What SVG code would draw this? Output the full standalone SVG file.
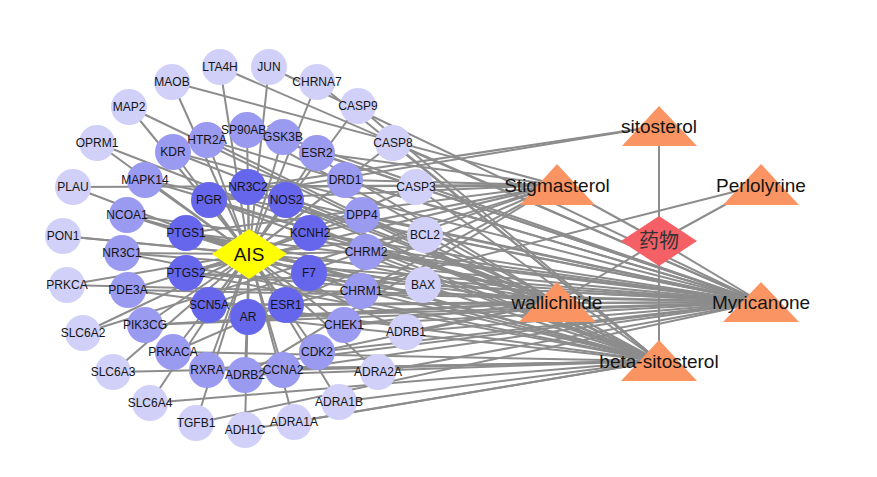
<svg xmlns="http://www.w3.org/2000/svg" width="877" height="477" viewBox="0 0 877 477">
<style>
.e{stroke:#8c8c8c;stroke-width:2;fill:none}
.o{fill:#d0d0f9}
.m{fill:#9a9af0}
.i{fill:#6666ec}
.c{fill:#fa9563}
text{font-family:"Liberation Sans",Arial,sans-serif;text-anchor:middle;fill:#141414}
.t{font-size:12px}
.L{font-size:19px}
</style>
<rect width="877" height="477" fill="#fff"/>
<g id="edges">
<!-- AIS edges -->
<line class="e" x1="249" y1="254" x2="220" y2="67"/>
<line class="e" x1="249" y1="254" x2="269" y2="67"/>
<line class="e" x1="249" y1="254" x2="317" y2="82"/>
<line class="e" x1="249" y1="254" x2="358" y2="106"/>
<line class="e" x1="249" y1="254" x2="393" y2="143"/>
<line class="e" x1="249" y1="254" x2="416" y2="187"/>
<line class="e" x1="249" y1="254" x2="425" y2="235"/>
<line class="e" x1="249" y1="254" x2="423" y2="285"/>
<line class="e" x1="249" y1="254" x2="406" y2="332"/>
<line class="e" x1="249" y1="254" x2="378" y2="372"/>
<line class="e" x1="249" y1="254" x2="339" y2="402"/>
<line class="e" x1="249" y1="254" x2="294" y2="422"/>
<line class="e" x1="249" y1="254" x2="245" y2="430"/>
<line class="e" x1="249" y1="254" x2="196" y2="423"/>
<line class="e" x1="249" y1="254" x2="150" y2="403"/>
<line class="e" x1="249" y1="254" x2="113" y2="372"/>
<line class="e" x1="249" y1="254" x2="83" y2="333"/>
<line class="e" x1="249" y1="254" x2="67" y2="285"/>
<line class="e" x1="249" y1="254" x2="63" y2="236"/>
<line class="e" x1="249" y1="254" x2="73" y2="187"/>
<line class="e" x1="249" y1="254" x2="97" y2="143"/>
<line class="e" x1="249" y1="254" x2="129" y2="107"/>
<line class="e" x1="249" y1="254" x2="172" y2="82"/>
<line class="e" x1="249" y1="254" x2="207" y2="140"/>
<line class="e" x1="249" y1="254" x2="247" y2="130"/>
<line class="e" x1="249" y1="254" x2="283" y2="137"/>
<line class="e" x1="249" y1="254" x2="317" y2="153"/>
<line class="e" x1="249" y1="254" x2="345" y2="180"/>
<line class="e" x1="249" y1="254" x2="362" y2="215"/>
<line class="e" x1="249" y1="254" x2="366" y2="252"/>
<line class="e" x1="249" y1="254" x2="361" y2="291"/>
<line class="e" x1="249" y1="254" x2="344" y2="325"/>
<line class="e" x1="249" y1="254" x2="317" y2="352"/>
<line class="e" x1="249" y1="254" x2="283" y2="370"/>
<line class="e" x1="249" y1="254" x2="245" y2="375"/>
<line class="e" x1="249" y1="254" x2="207" y2="370"/>
<line class="e" x1="249" y1="254" x2="173" y2="352"/>
<line class="e" x1="249" y1="254" x2="145" y2="325"/>
<line class="e" x1="249" y1="254" x2="128" y2="290"/>
<line class="e" x1="249" y1="254" x2="122" y2="253"/>
<line class="e" x1="249" y1="254" x2="127" y2="215"/>
<line class="e" x1="249" y1="254" x2="145" y2="180"/>
<line class="e" x1="249" y1="254" x2="173" y2="152"/>
<line class="e" x1="249" y1="254" x2="209" y2="200"/>
<line class="e" x1="249" y1="254" x2="248" y2="187"/>
<line class="e" x1="249" y1="254" x2="286" y2="200"/>
<line class="e" x1="249" y1="254" x2="310" y2="233"/>
<line class="e" x1="249" y1="254" x2="309" y2="273"/>
<line class="e" x1="249" y1="254" x2="286" y2="305"/>
<line class="e" x1="249" y1="254" x2="248" y2="317"/>
<line class="e" x1="249" y1="254" x2="209" y2="305"/>
<line class="e" x1="249" y1="254" x2="186" y2="273"/>
<line class="e" x1="249" y1="254" x2="186" y2="233"/>
<!-- drug edges -->
<line class="e" x1="659" y1="241" x2="659" y2="126"/>
<line class="e" x1="659" y1="241" x2="557" y2="185"/>
<line class="e" x1="659" y1="241" x2="761" y2="185"/>
<line class="e" x1="659" y1="241" x2="557" y2="302"/>
<line class="e" x1="659" y1="241" x2="761" y2="302"/>
<line class="e" x1="659" y1="241" x2="659" y2="361"/>
<!-- sitosterol -->
<line class="e" x1="659" y1="126" x2="209" y2="200"/>
<line class="e" x1="659" y1="126" x2="248" y2="187"/>
<!-- Stigmasterol -->
<line class="e" x1="557" y1="185" x2="416" y2="187"/>
<line class="e" x1="557" y1="185" x2="83" y2="333"/>
<line class="e" x1="557" y1="185" x2="73" y2="187"/>
<line class="e" x1="557" y1="185" x2="172" y2="82"/>
<line class="e" x1="557" y1="185" x2="317" y2="153"/>
<line class="e" x1="557" y1="185" x2="345" y2="180"/>
<line class="e" x1="557" y1="185" x2="361" y2="291"/>
<line class="e" x1="557" y1="185" x2="245" y2="375"/>
<line class="e" x1="557" y1="185" x2="173" y2="352"/>
<line class="e" x1="557" y1="185" x2="209" y2="200"/>
<line class="e" x1="557" y1="185" x2="248" y2="187"/>
<line class="e" x1="557" y1="185" x2="310" y2="233"/>
<line class="e" x1="557" y1="185" x2="209" y2="305"/>
<line class="e" x1="557" y1="185" x2="186" y2="273"/>
<line class="e" x1="557" y1="185" x2="186" y2="233"/>
<!-- Perlolyrine -->
<line class="e" x1="761" y1="185" x2="286" y2="305"/>
<!-- wallichilide -->
<line class="e" x1="557" y1="302" x2="406" y2="332"/>
<line class="e" x1="557" y1="302" x2="247" y2="130"/>
<line class="e" x1="557" y1="302" x2="283" y2="137"/>
<line class="e" x1="557" y1="302" x2="362" y2="215"/>
<line class="e" x1="557" y1="302" x2="344" y2="325"/>
<line class="e" x1="557" y1="302" x2="317" y2="352"/>
<line class="e" x1="557" y1="302" x2="145" y2="325"/>
<line class="e" x1="557" y1="302" x2="145" y2="180"/>
<line class="e" x1="557" y1="302" x2="173" y2="152"/>
<line class="e" x1="557" y1="302" x2="209" y2="200"/>
<line class="e" x1="557" y1="302" x2="286" y2="200"/>
<line class="e" x1="557" y1="302" x2="310" y2="233"/>
<line class="e" x1="557" y1="302" x2="309" y2="273"/>
<line class="e" x1="557" y1="302" x2="286" y2="305"/>
<line class="e" x1="557" y1="302" x2="248" y2="317"/>
<line class="e" x1="557" y1="302" x2="209" y2="305"/>
<line class="e" x1="557" y1="302" x2="186" y2="273"/>
<line class="e" x1="557" y1="302" x2="186" y2="233"/>
<!-- Myricanone -->
<line class="e" x1="761" y1="302" x2="220" y2="67"/>
<line class="e" x1="761" y1="302" x2="269" y2="67"/>
<line class="e" x1="761" y1="302" x2="393" y2="143"/>
<line class="e" x1="761" y1="302" x2="425" y2="235"/>
<line class="e" x1="761" y1="302" x2="423" y2="285"/>
<line class="e" x1="761" y1="302" x2="406" y2="332"/>
<line class="e" x1="761" y1="302" x2="378" y2="372"/>
<line class="e" x1="761" y1="302" x2="196" y2="423"/>
<line class="e" x1="761" y1="302" x2="67" y2="285"/>
<line class="e" x1="761" y1="302" x2="63" y2="236"/>
<line class="e" x1="761" y1="302" x2="207" y2="140"/>
<line class="e" x1="761" y1="302" x2="247" y2="130"/>
<line class="e" x1="761" y1="302" x2="283" y2="137"/>
<line class="e" x1="761" y1="302" x2="317" y2="153"/>
<line class="e" x1="761" y1="302" x2="345" y2="180"/>
<line class="e" x1="761" y1="302" x2="362" y2="215"/>
<line class="e" x1="761" y1="302" x2="366" y2="252"/>
<line class="e" x1="761" y1="302" x2="344" y2="325"/>
<line class="e" x1="761" y1="302" x2="317" y2="352"/>
<line class="e" x1="761" y1="302" x2="283" y2="370"/>
<line class="e" x1="761" y1="302" x2="207" y2="370"/>
<line class="e" x1="761" y1="302" x2="145" y2="325"/>
<line class="e" x1="761" y1="302" x2="128" y2="290"/>
<line class="e" x1="761" y1="302" x2="122" y2="253"/>
<line class="e" x1="761" y1="302" x2="127" y2="215"/>
<line class="e" x1="761" y1="302" x2="145" y2="180"/>
<line class="e" x1="761" y1="302" x2="173" y2="152"/>
<line class="e" x1="761" y1="302" x2="286" y2="200"/>
<line class="e" x1="761" y1="302" x2="310" y2="233"/>
<line class="e" x1="761" y1="302" x2="309" y2="273"/>
<line class="e" x1="761" y1="302" x2="286" y2="305"/>
<line class="e" x1="761" y1="302" x2="248" y2="317"/>
<line class="e" x1="761" y1="302" x2="209" y2="305"/>
<line class="e" x1="761" y1="302" x2="186" y2="273"/>
<line class="e" x1="761" y1="302" x2="186" y2="233"/>
<!-- beta-sitosterol -->
<line class="e" x1="659" y1="361" x2="317" y2="82"/>
<line class="e" x1="659" y1="361" x2="358" y2="106"/>
<line class="e" x1="659" y1="361" x2="393" y2="143"/>
<line class="e" x1="659" y1="361" x2="416" y2="187"/>
<line class="e" x1="659" y1="361" x2="425" y2="235"/>
<line class="e" x1="659" y1="361" x2="423" y2="285"/>
<line class="e" x1="659" y1="361" x2="339" y2="402"/>
<line class="e" x1="659" y1="361" x2="294" y2="422"/>
<line class="e" x1="659" y1="361" x2="245" y2="430"/>
<line class="e" x1="659" y1="361" x2="150" y2="403"/>
<line class="e" x1="659" y1="361" x2="113" y2="372"/>
<line class="e" x1="659" y1="361" x2="97" y2="143"/>
<line class="e" x1="659" y1="361" x2="129" y2="107"/>
<line class="e" x1="659" y1="361" x2="207" y2="140"/>
<line class="e" x1="659" y1="361" x2="366" y2="252"/>
<line class="e" x1="659" y1="361" x2="361" y2="291"/>
<line class="e" x1="659" y1="361" x2="283" y2="370"/>
<line class="e" x1="659" y1="361" x2="245" y2="375"/>
<line class="e" x1="659" y1="361" x2="207" y2="370"/>
<line class="e" x1="659" y1="361" x2="173" y2="352"/>
<line class="e" x1="659" y1="361" x2="128" y2="290"/>
<line class="e" x1="659" y1="361" x2="122" y2="253"/>
<line class="e" x1="659" y1="361" x2="127" y2="215"/>
<line class="e" x1="659" y1="361" x2="209" y2="200"/>
<line class="e" x1="659" y1="361" x2="248" y2="187"/>
<line class="e" x1="659" y1="361" x2="286" y2="200"/>
<line class="e" x1="659" y1="361" x2="309" y2="273"/>
<line class="e" x1="659" y1="361" x2="248" y2="317"/>
<line class="e" x1="659" y1="361" x2="186" y2="273"/>
<line class="e" x1="659" y1="361" x2="186" y2="233"/>
</g>
<!-- outer targets -->
<g id="LTA4H"><circle class="o" cx="220" cy="67" r="18"/><text class="t" x="220" y="71">LTA4H</text></g>
<g id="JUN"><circle class="o" cx="269" cy="67" r="18"/><text class="t" x="269" y="71">JUN</text></g>
<g id="CHRNA7"><circle class="o" cx="317" cy="82" r="18"/><text class="t" x="317" y="86">CHRNA7</text></g>
<g id="CASP9"><circle class="o" cx="358" cy="106" r="18"/><text class="t" x="358" y="110">CASP9</text></g>
<g id="CASP8"><circle class="o" cx="393" cy="143" r="18"/><text class="t" x="393" y="147">CASP8</text></g>
<g id="CASP3"><circle class="o" cx="416" cy="187" r="18"/><text class="t" x="416" y="191">CASP3</text></g>
<g id="BCL2"><circle class="o" cx="425" cy="235" r="18"/><text class="t" x="425" y="239">BCL2</text></g>
<g id="BAX"><circle class="o" cx="423" cy="285" r="18"/><text class="t" x="423" y="289">BAX</text></g>
<g id="ADRB1"><circle class="o" cx="406" cy="332" r="18"/><text class="t" x="406" y="336">ADRB1</text></g>
<g id="ADRA2A"><circle class="o" cx="378" cy="372" r="18"/><text class="t" x="378" y="376">ADRA2A</text></g>
<g id="ADRA1B"><circle class="o" cx="339" cy="402" r="18"/><text class="t" x="339" y="406">ADRA1B</text></g>
<g id="ADRA1A"><circle class="o" cx="294" cy="422" r="18"/><text class="t" x="294" y="426">ADRA1A</text></g>
<g id="ADH1C"><circle class="o" cx="245" cy="430" r="18"/><text class="t" x="245" y="434">ADH1C</text></g>
<g id="TGFB1"><circle class="o" cx="196" cy="423" r="18"/><text class="t" x="196" y="427">TGFB1</text></g>
<g id="SLC6A4"><circle class="o" cx="150" cy="403" r="18"/><text class="t" x="150" y="407">SLC6A4</text></g>
<g id="SLC6A3"><circle class="o" cx="113" cy="372" r="18"/><text class="t" x="113" y="376">SLC6A3</text></g>
<g id="SLC6A2"><circle class="o" cx="83" cy="333" r="18"/><text class="t" x="83" y="337">SLC6A2</text></g>
<g id="PRKCA"><circle class="o" cx="67" cy="285" r="18"/><text class="t" x="67" y="289">PRKCA</text></g>
<g id="PON1"><circle class="o" cx="63" cy="236" r="18"/><text class="t" x="63" y="240">PON1</text></g>
<g id="PLAU"><circle class="o" cx="73" cy="187" r="18"/><text class="t" x="73" y="191">PLAU</text></g>
<g id="OPRM1"><circle class="o" cx="97" cy="143" r="18"/><text class="t" x="97" y="147">OPRM1</text></g>
<g id="MAP2"><circle class="o" cx="129" cy="107" r="18"/><text class="t" x="129" y="111">MAP2</text></g>
<g id="MAOB"><circle class="o" cx="172" cy="82" r="18"/><text class="t" x="172" y="86">MAOB</text></g>
<!-- middle targets -->
<g id="HTR2A"><circle class="m" cx="207" cy="140" r="18"/><text class="t" x="207" y="144">HTR2A</text></g>
<g id="SP90AB1"><circle class="m" cx="247" cy="130" r="18"/><text class="t" x="247" y="134">SP90AB1</text></g>
<g id="GSK3B"><circle class="m" cx="283" cy="137" r="18"/><text class="t" x="283" y="141">GSK3B</text></g>
<g id="ESR2"><circle class="m" cx="317" cy="153" r="18"/><text class="t" x="317" y="157">ESR2</text></g>
<g id="DRD1"><circle class="m" cx="345" cy="180" r="18"/><text class="t" x="345" y="184">DRD1</text></g>
<g id="DPP4"><circle class="m" cx="362" cy="215" r="18"/><text class="t" x="362" y="219">DPP4</text></g>
<g id="CHRM2"><circle class="m" cx="366" cy="252" r="18"/><text class="t" x="366" y="256">CHRM2</text></g>
<g id="CHRM1"><circle class="m" cx="361" cy="291" r="18"/><text class="t" x="361" y="295">CHRM1</text></g>
<g id="CHEK1"><circle class="m" cx="344" cy="325" r="18"/><text class="t" x="344" y="329">CHEK1</text></g>
<g id="CDK2"><circle class="m" cx="317" cy="352" r="18"/><text class="t" x="317" y="356">CDK2</text></g>
<g id="CCNA2"><circle class="m" cx="283" cy="370" r="18"/><text class="t" x="283" y="374">CCNA2</text></g>
<g id="ADRB2"><circle class="m" cx="245" cy="375" r="18"/><text class="t" x="245" y="379">ADRB2</text></g>
<g id="RXRA"><circle class="m" cx="207" cy="370" r="18"/><text class="t" x="207" y="374">RXRA</text></g>
<g id="PRKACA"><circle class="m" cx="173" cy="352" r="18"/><text class="t" x="173" y="356">PRKACA</text></g>
<g id="PIK3CG"><circle class="m" cx="145" cy="325" r="18"/><text class="t" x="145" y="329">PIK3CG</text></g>
<g id="PDE3A"><circle class="m" cx="128" cy="290" r="18"/><text class="t" x="128" y="294">PDE3A</text></g>
<g id="NR3C1"><circle class="m" cx="122" cy="253" r="18"/><text class="t" x="122" y="257">NR3C1</text></g>
<g id="NCOA1"><circle class="m" cx="127" cy="215" r="18"/><text class="t" x="127" y="219">NCOA1</text></g>
<g id="MAPK14"><circle class="m" cx="145" cy="180" r="18"/><text class="t" x="145" y="184">MAPK14</text></g>
<g id="KDR"><circle class="m" cx="173" cy="152" r="18"/><text class="t" x="173" y="156">KDR</text></g>
<!-- inner targets -->
<g id="PGR"><circle class="i" cx="209" cy="200" r="18"/><text class="t" x="209" y="204">PGR</text></g>
<g id="NR3C2"><circle class="i" cx="248" cy="187" r="18"/><text class="t" x="248" y="191">NR3C2</text></g>
<g id="NOS2"><circle class="i" cx="286" cy="200" r="18"/><text class="t" x="286" y="204">NOS2</text></g>
<g id="KCNH2"><circle class="i" cx="310" cy="233" r="18"/><text class="t" x="310" y="237">KCNH2</text></g>
<g id="F7"><circle class="i" cx="309" cy="273" r="18"/><text class="t" x="309" y="277">F7</text></g>
<g id="ESR1"><circle class="i" cx="286" cy="305" r="18"/><text class="t" x="286" y="309">ESR1</text></g>
<g id="AR"><circle class="i" cx="248" cy="317" r="18"/><text class="t" x="248" y="321">AR</text></g>
<g id="SCN5A"><circle class="i" cx="209" cy="305" r="18"/><text class="t" x="209" y="309">SCN5A</text></g>
<g id="PTGS2"><circle class="i" cx="186" cy="273" r="18"/><text class="t" x="186" y="277">PTGS2</text></g>
<g id="PTGS1"><circle class="i" cx="186" cy="233" r="18"/><text class="t" x="186" y="237">PTGS1</text></g>
<!-- AIS -->
<g id="AIS"><polygon points="212,254 249,229 287,254 249,279" fill="#ffff00"/><text class="L" x="249" y="261">AIS</text></g>
<!-- drug -->
<g id="drug"><polygon points="621,241 659,216 697,241 659,266" fill="#f55f66"/><text x="659" y="248" style="font-size:20px;font-family:'Liberation Sans','Noto Sans CJK SC',sans-serif;fill:#333">药物</text></g>
<!-- compounds -->
<g id="sitosterol"><polygon class="c" points="659,106 622,146 697,146"/><text class="L" x="659" y="133">sitosterol</text></g>
<g id="Stigmasterol"><polygon class="c" points="557,164 520,205 595,205"/><text class="L" x="557" y="192">Stigmasterol</text></g>
<g id="Perlolyrine"><polygon class="c" points="761,164 723,205 799,205"/><text class="L" x="761" y="192">Perlolyrine</text></g>
<g id="wallichilide"><polygon class="c" points="557,282 519,322 596,322"/><text class="L" x="557" y="309">wallichilide</text></g>
<g id="Myricanone"><polygon class="c" points="761,282 723,322 799,322"/><text class="L" x="761" y="309">Myricanone</text></g>
<g id="beta-sitosterol"><polygon class="c" points="659,340 621,381 697,381"/><text class="L" x="659" y="368">beta-sitosterol</text></g>
</svg>
